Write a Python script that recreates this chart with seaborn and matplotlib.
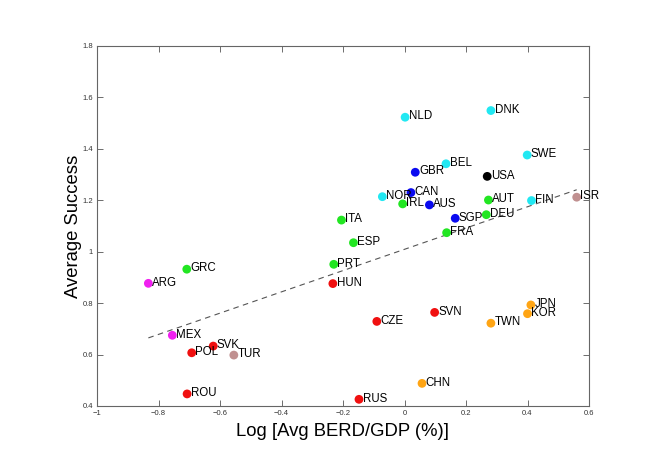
import matplotlib
matplotlib.use("Agg")
import matplotlib.pyplot as plt
import matplotlib.ticker as mticker
import seaborn as sns
import pandas as pd

# country codes, x = log avg BERD/GDP, y = average success, colour group
paises = ["NLD", "DNK", "SWE", "BEL", "NOR", "FIN",
          "GBR", "CAN", "AUS", "SGP",
          "USA",
          "AUT", "IRL", "DEU", "FRA", "ITA", "ESP", "PRT", "GRC",
          "HUN", "CZE", "SVN", "RUS", "ROU", "POL", "SVK",
          "ARG", "MEX",
          "JPN", "KOR", "TWN", "CHN",
          "TUR", "ISR"]
log_berd = [0.002, 0.281, 0.399, 0.135, -0.072, 0.413,
            0.035, 0.021, 0.081, 0.165,
            0.269,
            0.273, -0.006, 0.266, 0.137, -0.205, -0.166, -0.230, -0.708,
            -0.233, -0.090, 0.098, -0.148, -0.707, -0.692, -0.622,
            -0.833, -0.755,
            0.411, 0.400, 0.281, 0.057,
            -0.555, 0.560]
sucesso = [1.523, 1.549, 1.376, 1.342, 1.214, 1.199,
           1.309, 1.230, 1.182, 1.130,
           1.293,
           1.201, 1.186, 1.144, 1.074, 1.123, 1.035, 0.951, 0.932,
           0.876, 0.729, 0.764, 0.426, 0.447, 0.607, 0.633,
           0.877, 0.675,
           0.793, 0.759, 0.722, 0.488,
           0.598, 1.212]
grupo = (["ciano"] * 6 + ["azul"] * 4 + ["preto"] + ["verde"] * 8
         + ["vermelho"] * 7 + ["magenta"] * 2 + ["laranja"] * 4 + ["rosa"] * 2)

cores = {"ciano": "#22e8f2", "azul": "#0a0af0", "preto": "#000000",
         "verde": "#22e622", "vermelho": "#f01010", "magenta": "#f020f0",
         "laranja": "#ffa514", "rosa": "#c09090"}

df = pd.DataFrame({"pais": paises, "x": log_berd, "y": sucesso, "grupo": grupo})

sns.set_style("ticks")
plt.rcParams["font.family"] = ["Liberation Sans", "DejaVu Sans"]

fig = plt.figure(figsize=(6.64, 4.70), dpi=100)
ax = fig.add_axes([97 / 664, 64 / 470, 492 / 664, 360 / 470])

# linha de tendência
sns.regplot(data=df, x="x", y="y", scatter=False, ci=None, ax=ax,
            line_kws={"color": "#555555", "lw": 0.8, "ls": (0, (5, 4))})

sns.scatterplot(data=df, x="x", y="y", hue="grupo", palette=cores, s=40,
                edgecolor="none", legend=False, ax=ax, zorder=3)

for _, r in df.iterrows():
    ax.text(r["x"] + 0.012, r["y"] + 0.003, r["pais"], fontsize=8.3,
            color="black", va="center", ha="left", zorder=4)

ax.set_xlim(-1, 0.6)
ax.set_ylim(0.4, 1.8)
ax.set_xticks([-1, -0.8, -0.6, -0.4, -0.2, 0, 0.2, 0.4, 0.6])
ax.set_yticks([0.4, 0.6, 0.8, 1.0, 1.2, 1.4, 1.6, 1.8])
ax.yaxis.set_major_formatter(mticker.FormatStrFormatter("%g"))
ax.xaxis.set_major_formatter(mticker.FuncFormatter(lambda v, p: ("%g" % v).replace("-", "\u2212")))
ax.tick_params(direction="in", top=True, right=True, labelsize=5.5,
               length=4, width=0.6, color="#555555", labelcolor="#333333", pad=3)
for s in ax.spines.values():
    s.set_visible(True)
    s.set_color("#666666")
    s.set_linewidth(0.8)

ax.set_xlabel("Log [Avg BERD/GDP (%)]", fontsize=13.3, color="black", labelpad=4)
ax.set_ylabel("Average Success", fontsize=13.3, color="black", labelpad=0)

fig.savefig("out.png", dpi=100)
